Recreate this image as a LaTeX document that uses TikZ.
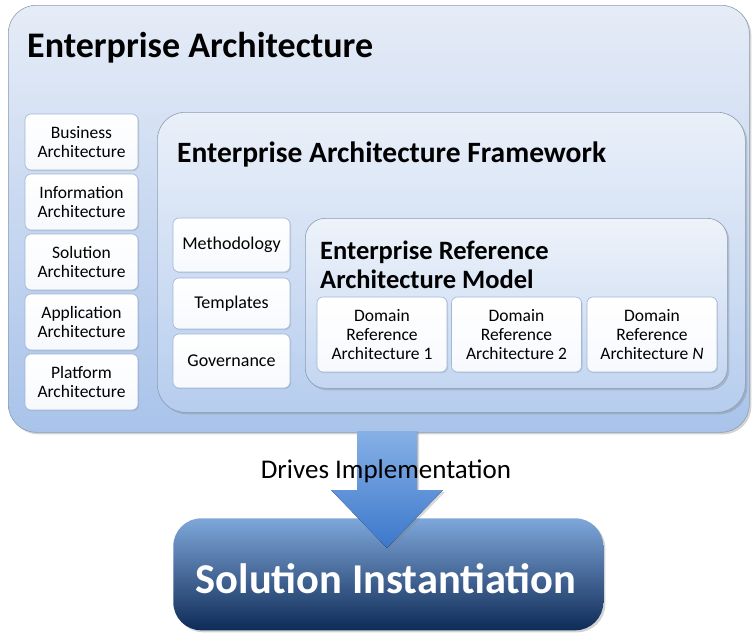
\documentclass[tikz,border=0pt]{standalone}
\usepackage{fontspec}
\setmainfont{Carlito}
\usetikzlibrary{positioning}
\usetikzlibrary{shadows}

\definecolor{paleTop}{HTML}{E6ECF7}
\definecolor{paleBot}{HTML}{A9C3EA}
\definecolor{frameTop}{HTML}{EAF0F9}
\definecolor{frameBot}{HTML}{B6CDEE}
\definecolor{modelTop}{HTML}{EEF3FA}
\definecolor{modelBot}{HTML}{C3D6F1}
\definecolor{edgeGrey}{HTML}{8C9DB3}
\definecolor{edgeBlue}{HTML}{9FB7D9}
\definecolor{arrowTop}{HTML}{86B0E6}
\definecolor{arrowBot}{HTML}{3C78CB}
\definecolor{navyTop}{HTML}{7FA7DA}
\definecolor{navyBot}{HTML}{0E2B57}

\begin{document}
\begin{tikzpicture}[x=1pt,y=-1pt,
	bigbox/.style={draw=edgeGrey, line width=0.6pt, rounded corners=28pt, anchor=north west,
		drop shadow={opacity=0.35, shadow xshift=2pt, shadow yshift=-2pt}},
	cell/.style={draw=edgeBlue, line width=0.6pt, rounded corners=6pt, top color=white, bottom color=white!90!paleBot,
		align=center, inner sep=1pt, font=\fontsize{17.5}{19.5}\selectfont,
		drop shadow={opacity=0.25, shadow xshift=1pt, shadow yshift=-1pt}},
	heading/.style={inner sep=0pt, font=\bfseries}]

	\useasboundingbox (0,0) rectangle (752,632);

	% outer frame
	\node[bigbox, top color=paleTop, bottom color=paleBot, minimum width=741pt, minimum height=427pt] (ea) at (8,5) {};
	\node[heading, anchor=base west, font=\fontsize{36}{40}\selectfont\bfseries] (eaTitle) at (27,57) {Enterprise Architecture};

	% left column
	\node[cell, minimum width=113pt, minimum height=56pt] (business) at (81.5,142) {Business\\Architecture};
	\node[cell, minimum width=113pt, minimum height=56pt] (information) at (81.5,202) {Information\\Architecture};
	\node[cell, minimum width=113pt, minimum height=56pt] (solution) at (81.5,262) {Solution\\Architecture};
	\node[cell, minimum width=113pt, minimum height=56pt] (application) at (81.5,322) {Application\\Architecture};
	\node[cell, minimum width=113pt, minimum height=56pt] (platform) at (81.5,382) {Platform\\Architecture};

	% framework
	\node[bigbox, top color=frameTop, bottom color=frameBot, minimum width=588pt, minimum height=300pt] (eaf) at (157,112) {};
	\node[heading, anchor=base west, font=\fontsize{29.5}{34}\selectfont\bfseries] (eafTitle) at (177,162) {Enterprise Architecture Framework};

	\node[cell, font=\fontsize{18}{20}\selectfont, minimum width=117pt, minimum height=54pt] (method) at (231.5,245) {Methodology};
	\node[cell, font=\fontsize{18}{20}\selectfont, minimum width=117pt, minimum height=51pt] (templ) at (231.5,303.5) {Templates};
	\node[cell, font=\fontsize{18}{20}\selectfont, minimum width=117pt, minimum height=54pt] (gov) at (231.5,361) {Governance};

	% reference model
	\node[bigbox, rounded corners=20pt, top color=modelTop, bottom color=modelBot, minimum width=422pt, minimum height=170pt] (eram) at (305,218) {};
	\node[heading, anchor=north west, align=left, font=\fontsize{26.5}{28.5}\selectfont\bfseries] (eramTitle) at (320,241) {Enterprise Reference\\Architecture Model};

	\node[cell, font=\fontsize{17.5}{19}\selectfont, minimum width=130pt, minimum height=75pt] (dom1) at (382,334.5) {Domain\\Reference\\Architecture 1};
	\node[cell, font=\fontsize{17.5}{19}\selectfont, minimum width=130pt, minimum height=75pt] (dom2) at (516.5,334.5) {Domain\\Reference\\Architecture 2};
	\node[cell, font=\fontsize{17.5}{19}\selectfont, minimum width=130pt, minimum height=75pt] (domN) at (652,334.5) {Domain\\Reference\\Architecture \textit{N}};

	% instantiation
	\node[bigbox, draw=none, top color=navyTop, bottom color=navyBot, minimum width=430pt, minimum height=112pt] (si) at (173,518) {};
	\node[heading, anchor=base, text=white, font=\fontsize{42.5}{48}\selectfont\bfseries] (siTitle) at (386,593) {Solution Instantiation};

	% block arrow
	\coordinate (from) at (387,431);
	\coordinate (to) at (387,548);
	\fill[top color=arrowTop, bottom color=arrowBot, drop shadow={opacity=0.3, shadow xshift=2pt, shadow yshift=-2pt}]
		([xshift=-30pt]from) -- ([xshift=30pt]from) -- ([xshift=30pt]from |- 0,490) -- ([xshift=56pt]from |- 0,490)
		-- (to) -- ([xshift=-56pt]from |- 0,490) -- ([xshift=-30pt]from |- 0,490) -- cycle;
	\node[anchor=base, inner sep=0pt, font=\fontsize{27}{30}\selectfont] (drives) at (386,478) {Drives Implementation};
\end{tikzpicture}
\end{document}
